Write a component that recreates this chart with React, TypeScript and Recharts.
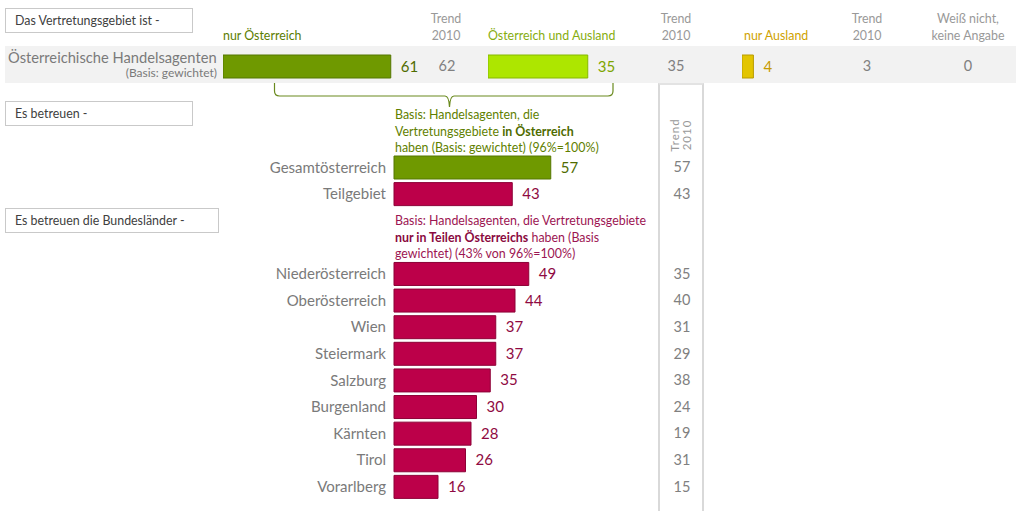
import React from "react";
import { BarChart, Bar, XAxis, YAxis, LabelList, Cell } from "recharts";

const FONT = "Lato, 'Open Sans', sans-serif";
const SMALL = 12.4;

// top row: "Das Vertretungsgebiet ist -"
const topGroups = ["nur Österreich", "Österreich und Ausland", "nur Ausland"];
const topValues = [61, 35, 4];
const topTrend = [62, 35, 3];
const noAnswer = 0;

// lower block: "Es betreuen -" / Bundesländer
const regions = [
  "Gesamtösterreich", "Teilgebiet", " ", "  ",
  "Niederösterreich", "Oberösterreich", "Wien", "Steiermark", "Salzburg",
  "Burgenland", "Kärnten", "Tirol", "Vorarlberg",
];
const regionValues = [57, 43, null, null, 49, 44, 37, 37, 35, 30, 28, 26, 16];
const regionTrend = [57, 43, null, null, 35, 40, 31, 29, 38, 24, 19, 31, 15];

const GREEN = "#6f9900";
const GREEN_DARK = "#4f6c00";
const LIME = "#ade600";
const GOLD = "#e3c500";
const RED = "#bc0049";
const RED_TXT = "#8f0a42";
const GRAY = "#808080";

const lowerData = regions.map((name, i) => ({ name, value: regionValues[i], trend: regionTrend[i] }));

const box = (left: number, top: number, width: number, text: string) => (
  <div style={{
    position: "absolute", left, top, width, height: 25, border: "1px solid #c9c9c9",
    boxSizing: "border-box", fontSize: SMALL, color: "#404040", padding: "4px 0 0 9px", background: "#fff",
  }}>{text}</div>
);

function TopBar({ idx, left, width, fill, stroke, labelColor }: any) {
  const data = [{ name: topGroups[idx], v: topValues[idx] }];
  return (
    <div style={{ position: "absolute", left, top: 52 }}>
      <BarChart width={width} height={28} data={data} layout="vertical" margin={{ top: 0, right: 0, bottom: 0, left: 0 }}>
        <XAxis type="number" domain={[0, 80]} hide />
        <YAxis type="category" dataKey="name" hide />
        <Bar dataKey="v" fill={fill} stroke={stroke} strokeWidth={1} barSize={23} isAnimationActive={false}>
          <LabelList dataKey="v" position="right" offset={10} fill={labelColor} fontSize={15} fontFamily={FONT} />
        </Bar>
      </BarChart>
    </div>
  );
}

const TrendTick = (props: any) => {
  const { x, y, index } = props;
  const t = regionTrend[index];
  if (t == null) return null;
  return (
    <text x={x} y={y} dy={5} textAnchor="middle" fill={GRAY} fontSize={14.5} fontFamily={FONT}>{t}</text>
  );
};

const ValueLabel = (props: any) => {
  const { x, y, width, height, value, index } = props;
  if (value == null) return null;
  return (
    <text x={x + width + 10} y={y + height / 2} dy={5} fill={index === 0 ? GREEN_DARK : RED_TXT}
      fontSize={15} fontFamily={FONT}>{value}</text>
  );
};

const centered = (cx: number, top: number, text: React.ReactNode, color: string, w = 100) => (
  <div style={{ position: "absolute", left: cx - w / 2, top, width: w, textAlign: "center", color, fontSize: SMALL, lineHeight: "17px" }}>{text}</div>
);

export default function App() {
  return (
    <div style={{ position: "absolute", left: 0, top: 0, width: 1016, height: 511, background: "#fff", fontFamily: FONT, overflow: "hidden" }}>
      {box(5, 8, 188, "Das Vertretungsgebiet ist -")}
      {box(5, 101, 188, "Es betreuen -")}
      {box(5, 208, 214, "Es betreuen die Bundesländer -")}

      {/* header row */}
      <div style={{ position: "absolute", left: 223, top: 28, fontSize: SMALL, color: "#5b7d00" }}>{topGroups[0]}</div>
      {centered(446, 10, <>Trend<br />2010</>, "#999")}
      <div style={{ position: "absolute", left: 488, top: 28, fontSize: SMALL, color: "#86ad10" }}>{topGroups[1]}</div>
      {centered(676, 10, <>Trend<br />2010</>, "#999")}
      <div style={{ position: "absolute", left: 744, top: 28, fontSize: SMALL, color: "#cfa200" }}>{topGroups[2]}</div>
      {centered(867, 10, <>Trend<br />2010</>, "#999")}
      {centered(968, 10, <>Weiß nicht,<br />keine Angabe</>, "#999", 110)}

      {/* grey band */}
      <div style={{ position: "absolute", left: 5, top: 46, width: 1011, height: 37, background: "#f2f2f2" }} />
      <div style={{ position: "absolute", left: 8, top: 48, fontSize: 14.7, color: "#7a7a7a" }}>Österreichische Handelsagenten</div>
      <div style={{ position: "absolute", right: 1016 - 217, top: 65, fontSize: 12, color: "#7a7a7a" }}>(Basis: gewichtet)</div>

      <TopBar idx={0} left={223} width={220} fill={GREEN} stroke="#557600" labelColor={GREEN_DARK} />
      <TopBar idx={1} left={488} width={228} fill={LIME} stroke="#86b800" labelColor="#7ea500" />
      <TopBar idx={2} left={742} width={228} fill={GOLD} stroke="#b89b00" labelColor="#c69b00" />

      {[447, 676, 867].map((cx, i) => (
        <div key={i} style={{ position: "absolute", left: cx - 20, top: 57, width: 40, textAlign: "center", fontSize: 14.5, color: GRAY }}>{topTrend[i]}</div>
      ))}
      <div style={{ position: "absolute", left: 948, top: 57, width: 40, textAlign: "center", fontSize: 14.5, color: GRAY }}>{noAnswer}</div>

      {/* brace */}
      <svg style={{ position: "absolute", left: 0, top: 0 }} width={1016} height={511}>
        <path d="M274.5,83 L274.5,91 Q274.5,96 279.5,96 L445,96 Q449,96 449.5,107 Q450,96 454,96 L608,96 Q613,96 613,91 L613,83"
          fill="none" stroke="#6a8a1e" strokeWidth={1.2} />
      </svg>

      {/* trend column frame */}
      <div style={{ position: "absolute", left: 658, top: 83, width: 46, height: 440, borderLeft: "2px solid #d9d9d9", borderRight: "2px solid #d9d9d9", borderTop: "2px solid #e3e3e3", boxSizing: "border-box" }} />
      <div style={{ position: "absolute", left: 661, top: 120, width: 40, height: 30, display: "flex", alignItems: "center", justifyContent: "center" }}>
        <div style={{ transform: "rotate(-90deg)", fontSize: 11.5, lineHeight: "12px", color: "#999", textAlign: "center", letterSpacing: 1, whiteSpace: "nowrap" }}>
          Trend<br />2010
        </div>
      </div>

      {/* annotations */}
      <div style={{ position: "absolute", left: 395, top: 107, fontSize: SMALL, lineHeight: "16.5px", color: "#5f7f00" }}>
        Basis: Handelsagenten, die<br />
        Vertretungsgebiete <b style={{ color: "#4f6c00" }}>in Österreich</b><br />
        haben (Basis: gewichtet) (96%=100%)
      </div>
      <div style={{ position: "absolute", left: 395, top: 213, fontSize: SMALL, lineHeight: "16.5px", color: "#9c1552" }}>
        Basis: Handelsagenten, die Vertretungsgebiete<br />
        <b style={{ color: "#8a0a40" }}>nur in Teilen Österreichs</b> haben (Basis<br />
        gewichtet) (43% von 96%=100%)
      </div>

      {/* lower chart */}
      <div style={{ position: "absolute", left: 0, top: 150 }}>
        <BarChart width={720} height={350} data={lowerData} layout="vertical" barSize={23}
          margin={{ top: 4, right: 0, bottom: 0, left: 0 }}>
          <XAxis type="number" domain={[0, 100]} hide />
          <YAxis yAxisId="l" type="category" dataKey="name" width={394} axisLine={false} tickLine={false}
            tickSize={0} tickMargin={8} interval={0} tick={{ fill: "#7a7a7a", fontSize: 15, fontFamily: FONT }} />
          <YAxis yAxisId="r" orientation="right" type="category" dataKey="name" width={51} axisLine={false}
            tickLine={false} tickSize={0} tickMargin={13} interval={0} tick={<TrendTick />} />
          <Bar yAxisId="l" dataKey="value" isAnimationActive={false} strokeWidth={1}>
            {lowerData.map((d, i) => (
              <Cell key={d.name} fill={i === 0 ? GREEN : RED} stroke={i === 0 ? "#557600" : "#8c0036"} />
            ))}
            <LabelList dataKey="value" content={<ValueLabel />} />
          </Bar>
        </BarChart>
      </div>
    </div>
  );
}
